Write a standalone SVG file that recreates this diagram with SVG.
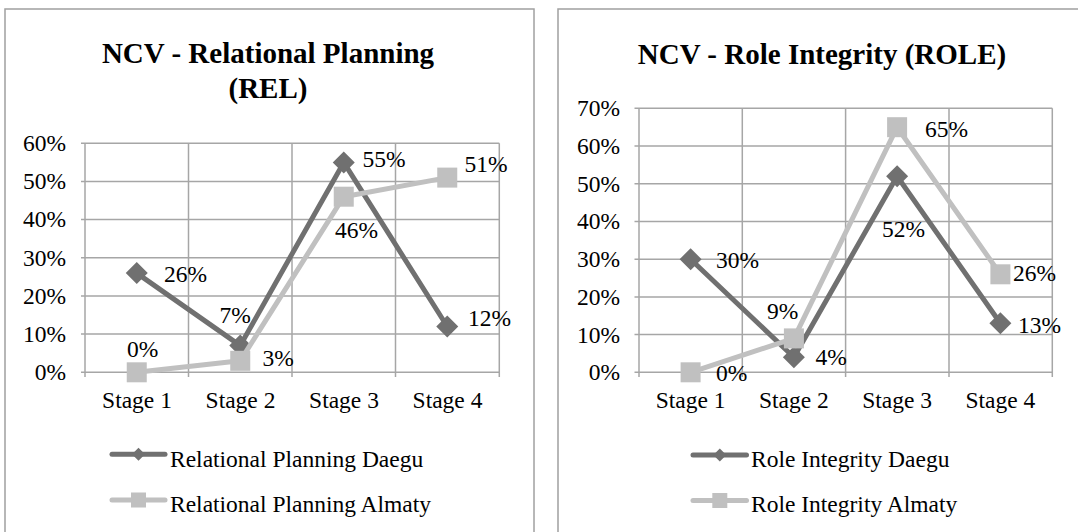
<svg xmlns="http://www.w3.org/2000/svg" width="1078" height="532" viewBox="0 0 1078 532">
<style>
text{font-family:"Liberation Serif","Times New Roman",serif;fill:#000}
.t{font-size:29px;font-weight:bold;text-anchor:middle}
.ax{font-size:23.5px;text-anchor:end}
.cat{font-size:23.5px;text-anchor:middle}
.lb{font-size:23.5px}
.frame{fill:#fff;stroke:#a0a0a0;stroke-width:1.5}
.grid{stroke:#a6a6a6;stroke-width:1.5;fill:none}
.d{stroke:#707070;stroke-width:5;fill:none;stroke-linejoin:round;stroke-linecap:round}
.a{stroke:#c0c0c0;stroke-width:5;fill:none;stroke-linejoin:round;stroke-linecap:round}
.dm{fill:#707070}
.am{fill:#c0c0c0}
</style>
<defs>
<path id="dia" d="M0,-11 L11,0 L0,11 L-11,0 Z"/>
<rect id="sq" x="-10" y="-10" width="20" height="20"/>
<path id="ldia" d="M0,-6.5 L6.5,0 L0,6.5 L-6.5,0 Z"/>
<rect id="lsq" x="-7.5" y="-7.5" width="15" height="15"/>
</defs>
<rect width="1078" height="532" fill="#fff"/>

<g id="chart-rel">
<rect class="frame" x="5" y="9" width="529" height="540"/>
<text class="t" x="268" y="63">NCV - Relational Planning</text>
<text class="t" x="268" y="98">(REL)</text>
<g id="rel-grid" class="grid">
<path d="M85,143.3H499.3M85,181.5H499.3M85,219.6H499.3M85,257.8H499.3M85,296H499.3M85,334.1H499.3M85,372.3H499.3"/>
<path d="M85,143.3V377M188.5,143.3V377M292,143.3V377M395.5,143.3V377M499.3,143.3V377"/>
<path d="M81,143.3H85M81,181.5H85M81,219.6H85M81,257.8H85M81,296H85M81,334.1H85M81,372.3H85"/>
</g>
<g id="rel-yaxis">
<text class="ax" x="66" y="151">60%</text>
<text class="ax" x="66" y="189.2">50%</text>
<text class="ax" x="66" y="227.3">40%</text>
<text class="ax" x="66" y="265.5">30%</text>
<text class="ax" x="66" y="303.7">20%</text>
<text class="ax" x="66" y="341.8">10%</text>
<text class="ax" x="66" y="380">0%</text>
</g>
<g id="rel-xaxis">
<text class="cat" x="137" y="408">Stage 1</text>
<text class="cat" x="240.5" y="408">Stage 2</text>
<text class="cat" x="344" y="408">Stage 3</text>
<text class="cat" x="447.5" y="408">Stage 4</text>
</g>
<g id="rel-daegu">
<polyline class="d" points="136.75,273.1 240.25,345.6 343.75,162.4 447.25,326.5"/>
<use href="#dia" class="dm" x="136.75" y="273.1"/>
<use href="#dia" class="dm" x="240.25" y="345.6"/>
<use href="#dia" class="dm" x="343.75" y="162.4"/>
<use href="#dia" class="dm" x="447.25" y="326.5"/>
</g>
<g id="rel-almaty">
<polyline class="a" points="136.75,372.3 240.25,360.8 343.75,196.7 447.25,177.6"/>
<use href="#sq" class="am" x="136.75" y="372.3"/>
<use href="#sq" class="am" x="240.25" y="360.8"/>
<use href="#sq" class="am" x="343.75" y="196.7"/>
<use href="#sq" class="am" x="447.25" y="177.6"/>
</g>
<g id="rel-labels" class="lb">
<text x="164" y="282">26%</text>
<text x="219.5" y="322.7">7%</text>
<text x="127" y="356.7">0%</text>
<text x="262.5" y="366">3%</text>
<text x="362.5" y="166.7">55%</text>
<text x="335" y="238.3">46%</text>
<text x="464.5" y="171.7">51%</text>
<text x="468" y="326">12%</text>
</g>
<g id="rel-legend">
<path class="d" d="M112,454.3H165"/>
<use href="#ldia" class="dm" x="138.5" y="454.3"/>
<text class="lb" x="170" y="466.7">Relational Planning Daegu</text>
<path class="a" d="M112,500H165"/>
<use href="#lsq" class="am" x="138.5" y="500"/>
<text class="lb" x="170" y="511.7">Relational Planning Almaty</text>
</g>
</g>

<g id="chart-role">
<rect class="frame" x="558" y="9" width="529" height="540"/>
<text class="t" x="822" y="64">NCV - Role Integrity (ROLE)</text>
<g id="role-grid" class="grid">
<path d="M639,108.3H1052.3M639,146H1052.3M639,183.7H1052.3M639,221.4H1052.3M639,259.2H1052.3M639,296.9H1052.3M639,334.6H1052.3M639,372.3H1052.3"/>
<path d="M639,108.3V377M742.3,108.3V377M845.6,108.3V377M949,108.3V377M1052.3,108.3V377"/>
<path d="M634.5,108.3H639M634.5,146H639M634.5,183.7H639M634.5,221.4H639M634.5,259.2H639M634.5,296.9H639M634.5,334.6H639M634.5,372.3H639"/>
</g>
<g id="role-yaxis">
<text class="ax" x="620" y="116.3">70%</text>
<text class="ax" x="620" y="154">60%</text>
<text class="ax" x="620" y="191.7">50%</text>
<text class="ax" x="620" y="229.4">40%</text>
<text class="ax" x="620" y="267.2">30%</text>
<text class="ax" x="620" y="304.9">20%</text>
<text class="ax" x="620" y="342.6">10%</text>
<text class="ax" x="620" y="380.3">0%</text>
</g>
<g id="role-xaxis">
<text class="cat" x="690.6" y="408">Stage 1</text>
<text class="cat" x="793.9" y="408">Stage 2</text>
<text class="cat" x="897.1" y="408">Stage 3</text>
<text class="cat" x="1000.4" y="408">Stage 4</text>
</g>
<g id="role-daegu">
<polyline class="d" points="690.6,259.2 793.9,357.2 897.1,176.2 1000.4,323.3"/>
<use href="#dia" class="dm" x="690.6" y="259.2"/>
<use href="#dia" class="dm" x="793.9" y="357.2"/>
<use href="#dia" class="dm" x="897.1" y="176.2"/>
<use href="#dia" class="dm" x="1000.4" y="323.3"/>
</g>
<g id="role-almaty">
<polyline class="a" points="690.6,372.3 793.9,338.4 897.1,127.2 1000.4,274.3"/>
<use href="#sq" class="am" x="690.6" y="372.3"/>
<use href="#sq" class="am" x="793.9" y="338.4"/>
<use href="#sq" class="am" x="897.1" y="127.2"/>
<use href="#sq" class="am" x="1000.4" y="274.3"/>
</g>
<g id="role-labels" class="lb">
<text x="716" y="268">30%</text>
<text x="767" y="319.3">9%</text>
<text x="815.5" y="365.3">4%</text>
<text x="716" y="381">0%</text>
<text x="925" y="136.7">65%</text>
<text x="882" y="236.7">52%</text>
<text x="1013" y="281">26%</text>
<text x="1018" y="332.7">13%</text>
</g>
<g id="role-legend">
<path class="d" d="M693,455H746.5"/>
<use href="#ldia" class="dm" x="719.8" y="455"/>
<text class="lb" x="751" y="467.4">Role Integrity Daegu</text>
<path class="a" d="M693,500.5H746.5"/>
<use href="#lsq" class="am" x="719.8" y="500.5"/>
<text class="lb" x="751" y="512.2">Role Integrity Almaty</text>
</g>
</g>
</svg>
